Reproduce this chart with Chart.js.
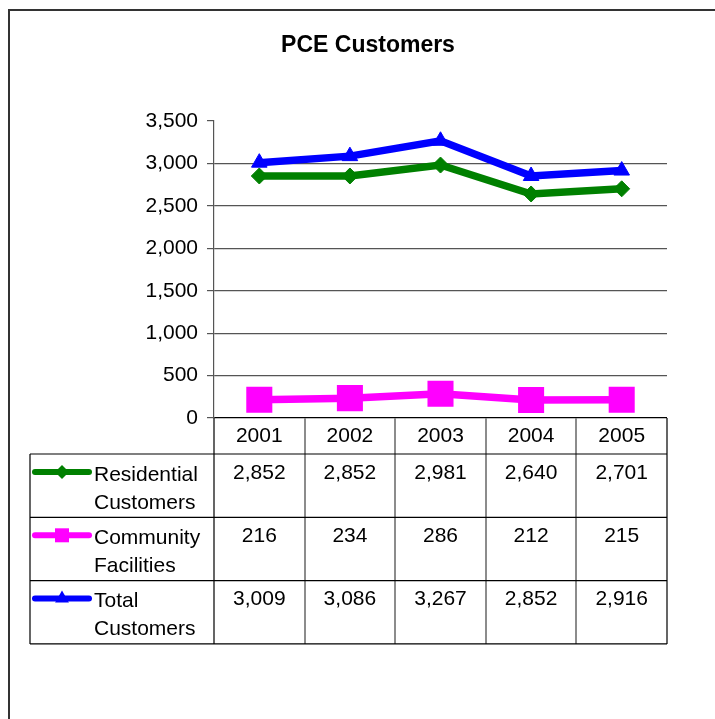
<!DOCTYPE html>
<html><head><meta charset="utf-8">
<script src="https://cdn.jsdelivr.net/npm/chart.js@4.4.1/dist/chart.umd.min.js"></script>
<style>
html,body{margin:0;padding:0;background:#fff;overflow:hidden}
#frame{position:absolute;left:8px;top:9px;width:900px;height:900px;border:2px solid #333;box-sizing:border-box}
#wrap{position:absolute;left:0;top:0;width:715px;height:719px}
</style></head><body>
<div id="frame"></div>
<div id="wrap"><canvas id="c" width="715" height="719"></canvas></div>
<script>
const categories = ['2001', '2002', '2003', '2004', '2005'];
const residential = [2852, 2852, 2981, 2640, 2701];
const community = [216, 234, 286, 212, 215];
const total = [3009, 3086, 3267, 2852, 2916];
const seriesLabels = [['Residential', 'Customers'], ['Community', 'Facilities'], ['Total', 'Customers']];
const yMin = 0, yMax = 3500, yStep = 500;

const FONT = 'Arial, "Liberation Sans", sans-serif';

function drawMarker(ctx, style, x, y, color) {
  ctx.save();
  ctx.fillStyle = color;
  ctx.beginPath();
  if (style === 'rectRot') {
    const r = 7;
    ctx.moveTo(x - r, y); ctx.lineTo(x, y - r); ctx.lineTo(x + r, y); ctx.lineTo(x, y + r);
  } else if (style === 'rect') {
    const s = 7;
    ctx.rect(x - s, y - s, 2 * s, 2 * s);
  } else {
    const r = 8;
    ctx.moveTo(x, y - r);
    ctx.lineTo(x + r * 0.866, y + r * 0.5);
    ctx.lineTo(x - r * 0.866, y + r * 0.5);
  }
  ctx.closePath();
  ctx.fill();
  ctx.restore();
}

const tablePlugin = {
  id: 'dataTable',
  afterDraw(chart) {
    const ctx = chart.ctx;
    const xs = chart.scales.x;
    const area = chart.chartArea;
    const n = categories.length;
    const colW = xs.getPixelForValue(1) - xs.getPixelForValue(0);
    const left = area.left, right = area.right;
    const tableLeft = 30;
    const headTop = area.bottom;
    const headBottom = headTop + 36;
    const rowH = 63.3;
    const ds = chart.data.datasets;
    const tableBottom = headBottom + rowH * ds.length;

    ctx.save();
    ctx.fillStyle = '#000';
    ctx.font = '21px ' + FONT;
    ctx.textAlign = 'center';
    ctx.textBaseline = 'middle';
    categories.forEach((c, i) => {
      ctx.fillText(c, xs.getPixelForValue(i), headTop + 18.5);
    });

    ctx.strokeStyle = '#8c8c8c';
    ctx.lineWidth = 2;
    for (let i = 1; i < n; i++) {
      const xv = Math.round(left + colW * i);
      ctx.beginPath(); ctx.moveTo(xv, headTop); ctx.lineTo(xv, tableBottom); ctx.stroke();
    }
    ctx.strokeStyle = '#000';
    ctx.lineWidth = 1.2;
    ctx.beginPath();
    ctx.moveTo(left, headTop); ctx.lineTo(left, tableBottom);
    ctx.moveTo(right, headTop); ctx.lineTo(right, tableBottom);
    ctx.moveTo(tableLeft, headBottom); ctx.lineTo(tableLeft, tableBottom);
    for (let r = 0; r <= ds.length; r++) {
      const yy = headBottom + rowH * r;
      ctx.moveTo(tableLeft, yy); ctx.lineTo(right, yy);
    }
    ctx.stroke();

    ds.forEach((d, r) => {
      const top = headBottom + rowH * r;
      ctx.strokeStyle = d.borderColor;
      ctx.lineWidth = 6;
      ctx.lineCap = 'round';
      ctx.beginPath(); ctx.moveTo(35, top + 18); ctx.lineTo(89, top + 18); ctx.stroke();
      drawMarker(ctx, d.pointStyle, 62, top + 18, d.borderColor);
      ctx.fillStyle = '#000';
      ctx.font = '21px ' + FONT;
      ctx.textAlign = 'left';
      ctx.textBaseline = 'middle';
      seriesLabels[r].forEach((t, k) => ctx.fillText(t, 94, top + 21 + 28 * k));
      ctx.textAlign = 'center';
      d.data.forEach((v, i) => {
        ctx.fillText(v.toLocaleString('en-US'), xs.getPixelForValue(i), top + 19);
      });
    });
    ctx.restore();
  }
};

new Chart(document.getElementById('c'), {
  type: 'line',
  data: {
    labels: categories,
    datasets: [
      { label: 'Residential Customers', data: residential, borderColor: '#008000', backgroundColor: '#008000',
        borderWidth: 7.5, pointStyle: 'rectRot', pointRadius: 8, pointBorderWidth: 1, tension: 0 },
      { label: 'Community Facilities', data: community, borderColor: '#FF00FF', backgroundColor: '#FF00FF',
        borderWidth: 7.5, pointStyle: 'rect', pointRadius: 17, pointBorderWidth: 2, tension: 0 },
      { label: 'Total Customers', data: total, borderColor: '#0000FF', backgroundColor: '#0000FF',
        borderWidth: 7.5, pointStyle: 'triangle', pointRadius: 9, pointBorderWidth: 1, tension: 0 }
    ]
  },
  options: {
    responsive: false,
    animation: false,
    devicePixelRatio: 1,
    layout: { padding: { left: 69, right: 48, top: 0, bottom: 301 } },
    plugins: {
      legend: { display: false },
      tooltip: { enabled: false },
      title: {
        display: true, text: 'PCE Customers', color: '#000',
        font: { family: FONT, size: 23, weight: 'bold', lineHeight: 1.2 },
        padding: { top: 32, bottom: 61.4 }
      }
    },
    scales: {
      x: { display: false, offset: true },
      y: {
        min: yMin, max: yMax,
        afterFit(scale) { scale.width = 145; },
        ticks: {
          stepSize: yStep, color: '#000', padding: 9,
          font: { family: FONT, size: 21 },
          callback: v => Number(v).toLocaleString('en-US')
        },
        grid: {
          tickLength: 7,
          lineWidth: 1.2,
          color: c => c.tick.value === yMax ? 'rgba(0,0,0,0)' : (c.tick.value === 0 ? '#000' : '#555'),
          tickColor: '#555'
        },
        border: { color: '#555', width: 1.2 }
      }
    }
  },
  plugins: [tablePlugin]
});
</script>
</body></html>
